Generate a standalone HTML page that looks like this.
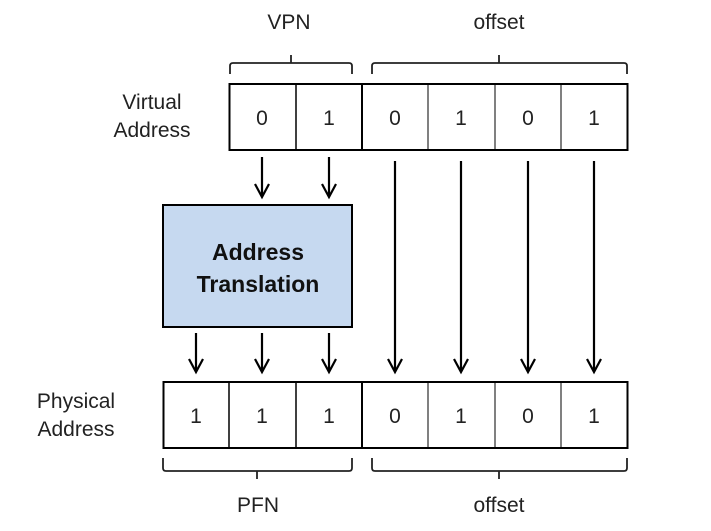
<!DOCTYPE html>
<html><head><style>
html,body{margin:0;padding:0;background:#fff;}
svg text{font-family:"Liberation Sans","DejaVu Sans",sans-serif;}
</style></head><body>
<svg width="711" height="526" viewBox="0 0 711 526" xmlns="http://www.w3.org/2000/svg">
<g font-size="21" fill="#222" text-anchor="middle">
<text x="289" y="29">VPN</text>
<text x="499" y="29">offset</text>
<text x="152" y="109">Virtual</text>
<text x="152" y="137">Address</text>
<text x="76" y="408">Physical</text>
<text x="76" y="436">Address</text>
<text x="258" y="512">PFN</text>
<text x="499" y="512">offset</text>
</g>
<g fill="none" stroke="#222" stroke-width="1.8">
<path d="M230,74 V66 Q230,63 233,63 H349 Q352,63 352,66 V74"/>
<path d="M291,63 V55"/>
<path d="M372,74 V66 Q372,63 375,63 H624 Q627,63 627,66 V74"/>
<path d="M499,63 V55"/>
<path d="M163,458 V468 Q163,471 166,471 H349 Q352,471 352,468 V458"/>
<path d="M257,471 V479"/>
<path d="M372,458 V468 Q372,471 375,471 H624 Q627,471 627,468 V458"/>
<path d="M499,471 V479"/>
</g>
<g stroke="#000" fill="none">
<rect x="229.5" y="84" width="398" height="66" stroke-width="2"/>
<line x1="296" y1="84" x2="296" y2="150" stroke-width="1.5"/>
<line x1="362" y1="84" x2="362" y2="150" stroke-width="2"/>
<line x1="428" y1="84" x2="428" y2="150" stroke-width="1"/>
<line x1="495" y1="84" x2="495" y2="150" stroke-width="1"/>
<line x1="561" y1="84" x2="561" y2="150" stroke-width="1"/>
<rect x="163.5" y="382" width="464" height="66" stroke-width="2"/>
<line x1="229" y1="382" x2="229" y2="448" stroke-width="1.5"/>
<line x1="296" y1="382" x2="296" y2="448" stroke-width="1.5"/>
<line x1="362" y1="382" x2="362" y2="448" stroke-width="2"/>
<line x1="428" y1="382" x2="428" y2="448" stroke-width="1"/>
<line x1="495" y1="382" x2="495" y2="448" stroke-width="1"/>
<line x1="561" y1="382" x2="561" y2="448" stroke-width="1"/>
</g>
<g font-size="21" fill="#222" text-anchor="middle">
<text x="262" y="125">0</text><text x="329" y="125">1</text>
<text x="395" y="125">0</text><text x="461" y="125">1</text>
<text x="528" y="125">0</text><text x="594" y="125">1</text>
<text x="196" y="423">1</text><text x="262" y="423">1</text><text x="329" y="423">1</text>
<text x="395" y="423">0</text><text x="461" y="423">1</text>
<text x="528" y="423">0</text><text x="594" y="423">1</text>
</g>
<rect x="163" y="205" width="189" height="122" fill="#c6d9f0" stroke="#000" stroke-width="2"/>
<g font-size="23" font-weight="bold" fill="#111" text-anchor="middle">
<text x="258" y="260">Address</text>
<text x="258" y="292">Translation</text>
</g>
<g stroke="#000" stroke-width="2.2" fill="none">
<path d="M262,157 V196 M255,184 L262,197 L269,184"/>
<path d="M329,157 V196 M322,184 L329,197 L336,184"/>
<path d="M395,161 V371 M388,359 L395,372 L402,359"/>
<path d="M461,161 V371 M454,359 L461,372 L468,359"/>
<path d="M528,161 V371 M521,359 L528,372 L535,359"/>
<path d="M594,161 V371 M587,359 L594,372 L601,359"/>
<path d="M196,333 V371 M189,359 L196,372 L203,359"/>
<path d="M262,333 V371 M255,359 L262,372 L269,359"/>
<path d="M329,333 V371 M322,359 L329,372 L336,359"/>
</g>
</svg>
</body></html>
